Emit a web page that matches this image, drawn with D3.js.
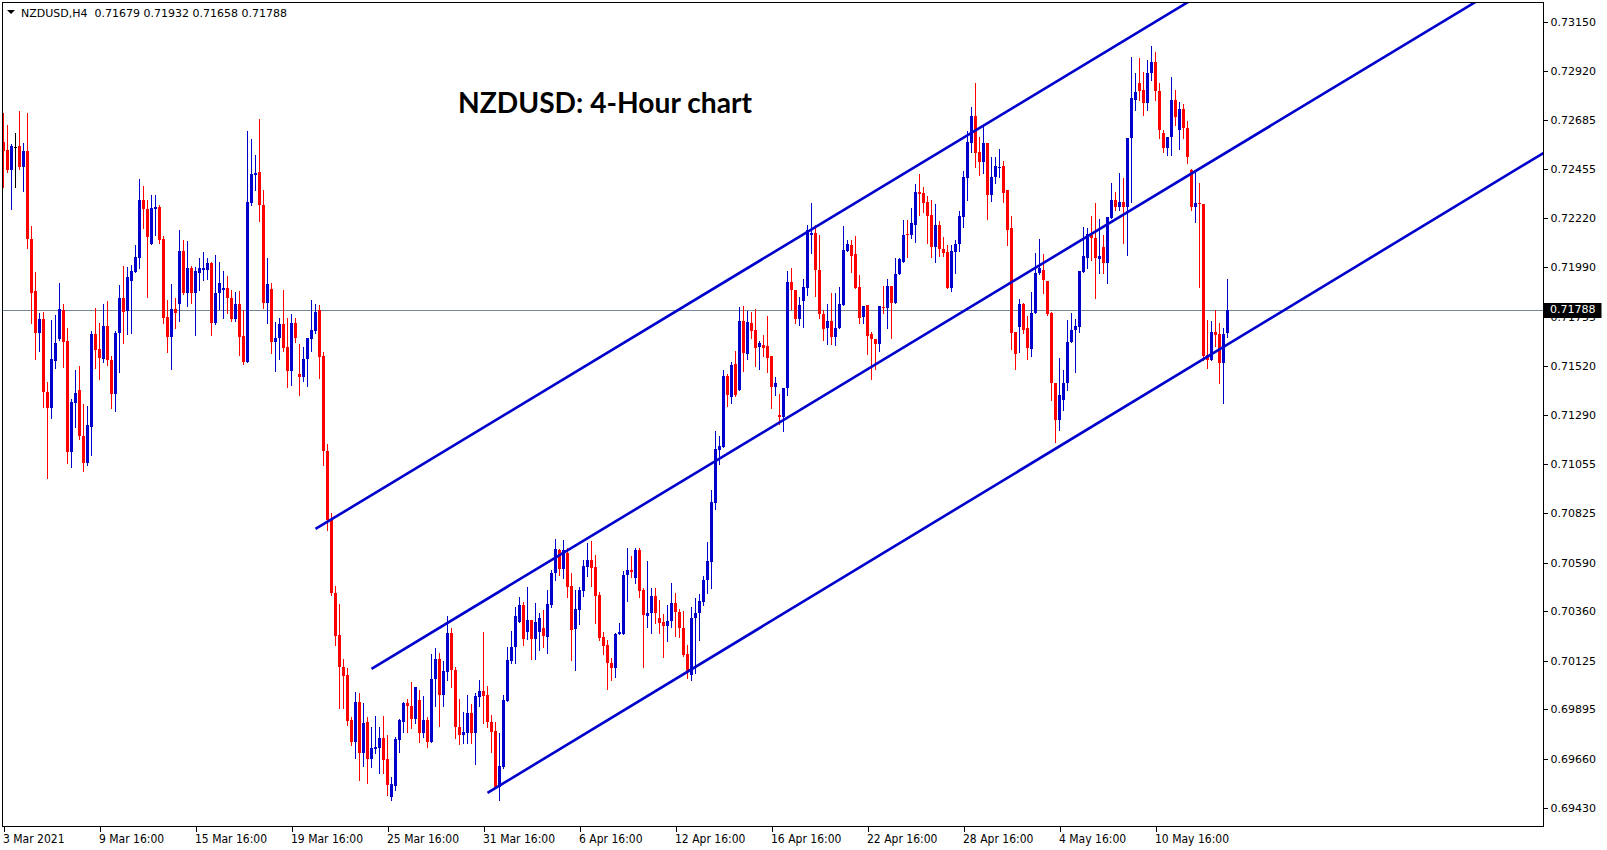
<!DOCTYPE html>
<html><head><meta charset="utf-8">
<script src="https://cdn.jsdelivr.net/npm/d3@7"></script>
<style>html,body{margin:0;padding:0;background:#fff;} svg{display:block}</style>
</head><body>
<script>
// ---- DATA ----
const symbol = "NZDUSD", timeframe = "H4";
const chartTitle = "NZDUSD: 4-Hour chart";
const opens = [
.72582,.72544,.72449,.72560,.72563,.72465,.72539,.72122,.71876,.71675,
.71742,.71399,.71320,.71546,.71647,.71786,.71639,.71115,.71344,.71407,
.71191,.71060,.71233,.71671,.71600,.71552,.71710,.71549,.71387,.71675,
.71841,.71783,.71925,.71967,.72034,.72307,.72264,.72098,.72263,.72275,
.72122,.71754,.71659,.71791,.71813,.72065,.71865,.71986,.71868,.71963,
.71975,.71975,.72010,.71726,.71865,.71881,.71892,.71841,.71742,.71814,
.71663,.71541,.72291,.72427,.72441,.72283,.71820,.71885,.71636,.71652,
.71719,.71611,.71497,.71723,.71483,.71470,.71554,.71647,.71688,.71786,
.71568,.71120,.70791,.70447,.70247,.70097,.70057,.69844,.69738,.69931,
.69689,.69835,.69659,.69705,.69711,.69759,.69659,.69481,.69532,.69749,
.69836,.69923,.69910,.69849,.69939,.69784,.69844,.69741,.70038,.70133,
.69962,.70073,.70258,.70081,.69812,.69773,.69784,.69876,.69781,.69954,
.69981,.69962,.69836,.69792,.69525,.69620,.69935,.70125,.70188,.70310,
.70389,.70263,.70318,.70226,.70263,.70279,.70239,.70389,.70539,.70649,
.70559,.70637,.70479,.70274,.70365,.70455,.70570,.70602,.70570,.70436,
.70239,.70199,.70113,.70092,.70250,.70251,.70531,.70554,.70515,.70649,
.70460,.70337,.70349,.70431,.70326,.70310,.70289,.70313,.70400,.70357,
.70281,.70157,.70057,.70329,.70349,.70404,.70507,.70593,.70873,.71123,
.71138,.71473,.71375,.71530,.71407,.71735,.71577,.71726,.71691,.71612,
.71620,.71615,.71568,.71423,.71289,.71278,.71418,.71920,.71881,.71743,
.71830,.71891,.72141,.72152,.71975,.71767,.71702,.71734,.71659,.71702,
.71810,.72067,.72094,.72051,.71896,.71754,.71810,.71672,.71649,.71623,
.71801,.71794,.71900,.71821,.71956,.72015,.72146,.72141,.72188,.72346,
.72339,.72297,.72236,.72086,.72188,.72075,.72062,.71891,.72062,.72097,
.72228,.72412,.72578,.72705,.72536,.72488,.72578,.72331,.72414,.72457,
.72468,.72354,.72176,.71683,.71707,.71814,.71702,.71600,.71770,.71963,
.71975,.71925,.71773,.71439,.71265,.71360,.71439,.71636,.71691,.71704,
.71967,.72034,.72141,.72125,.72026,.72086,.72007,.72220,.72307,.72275,
.72296,.72275,.72599,.72780,.72859,.72828,.72768,.72908,.72960,.72823,
.72626,.72555,.72604,.72780,.72640,.72740,.72650,.72449,.72275,.72294,
.72288,.71573,.71549,.71683,.71672,.71533,.71679];
const highs = [
.72719,.72662,.72572,.72624,.72728,.72577,.72720,.72184,.71967,.71773,
.71778,.71445,.71738,.71762,.71915,.71813,.71701,.71363,.71502,.71521,
.71341,.71331,.71686,.71794,.71723,.71814,.71828,.71568,.71686,.71904,
.71994,.71991,.71998,.72094,.72406,.72373,.72307,.72331,.72331,.72283,
.72138,.71833,.71909,.71841,.72165,.72117,.72113,.71996,.71991,.72034,
.72059,.72034,.72015,.72046,.72015,.71971,.71947,.71881,.71871,.71876,
.71786,.72635,.72594,.72520,.72690,.72354,.72034,.71915,.71728,.71747,
.71881,.71747,.71767,.71747,.71625,.71612,.71655,.71833,.71814,.71810,
.71588,.71151,.70824,.70479,.70394,.70132,.70089,.69860,.69978,.69971,
.69926,.69860,.69812,.69863,.69812,.69863,.69773,.69576,.69765,.69848,
.69931,.69942,.70026,.70002,.69986,.69958,.69860,.70157,.70184,.70160,
.70125,.70337,.70278,.70097,.69942,.69881,.69962,.69920,.69973,.70034,
.70262,.70005,.69868,.69836,.69784,.69962,.70191,.70267,.70381,.70428,
.70404,.70475,.70318,.70397,.70349,.70365,.70460,.70554,.70700,.70652,
.70697,.70657,.70539,.70460,.70475,.70602,.70681,.70692,.70626,.70452,
.70262,.70223,.70136,.70255,.70305,.70550,.70657,.70621,.70657,.70657,
.70468,.70599,.70468,.70471,.70412,.70345,.70389,.70494,.70444,.70368,
.70360,.70199,.70381,.70420,.70441,.70526,.70689,.70933,.71214,.71191,
.71502,.71483,.71541,.71593,.71799,.71805,.71783,.71778,.71791,.71640,
.71667,.71759,.71568,.71467,.71387,.71415,.71971,.71986,.71881,.71849,
.71931,.72188,.72294,.72188,.72141,.71786,.71814,.71865,.71865,.71896,
.72184,.72117,.72117,.72136,.71952,.71806,.71810,.71680,.71649,.71806,
.71900,.71931,.71900,.72031,.72031,.72212,.72212,.72267,.72383,.72430,
.72370,.72326,.72307,.72288,.72207,.72133,.72094,.72094,.72117,.72256,
.72446,.72635,.72749,.72862,.72607,.72662,.72578,.72509,.72509,.72547,
.72493,.72354,.72232,.71683,.71837,.71821,.71758,.71872,.72057,.72122,
.72051,.71925,.71778,.71442,.71557,.71502,.71738,.71773,.71742,.71972,
.72178,.72173,.72231,.72291,.72215,.72141,.72228,.72386,.72346,.72433,
.72410,.72599,.72985,.72907,.72978,.72914,.72970,.73036,.73008,.72860,
.72638,.72607,.72890,.72830,.72770,.72760,.72680,.72452,.72441,.72389,
.72288,.71738,.71735,.71786,.71726,.71699,.71932];
const lows = [
.72369,.72441,.72263,.72369,.72452,.72351,.72078,.71723,.71552,.71593,
.71328,.70989,.71276,.71513,.71644,.71517,.71060,.71044,.71230,.71173,
.71025,.71052,.71099,.71513,.71461,.71541,.71525,.71323,.71309,.71494,
.71631,.71671,.71678,.71967,.71986,.72173,.71849,.72098,.72141,.72102,
.71723,.71588,.71505,.71702,.71735,.71862,.71805,.71818,.71667,.71881,
.71928,.71933,.71667,.71718,.71791,.71749,.71770,.71734,.71734,.71573,
.71530,.71541,.72283,.72354,.72209,.71797,.71726,.71584,.71498,.71552,
.71592,.71423,.71431,.71633,.71383,.71451,.71426,.71593,.71675,.71465,
.71052,.70744,.70436,.70199,.69900,.69900,.69820,.69726,.69663,.69560,
.69626,.69544,.69623,.69686,.69594,.69592,.69489,.69465,.69513,.69694,
.69786,.69786,.69805,.69828,.69741,.69765,.69715,.69741,.69910,.69816,
.69910,.70034,.69999,.69757,.69730,.69737,.69737,.69737,.69636,.69910,
.69828,.69812,.69694,.69521,.69465,.69615,.69935,.70113,.70113,.70310,
.70199,.70226,.70132,.70132,.70176,.70191,.70160,.70379,.70507,.70531,
.70515,.70428,.70128,.70081,.70297,.70431,.70527,.70480,.70302,.70223,
.70157,.69990,.70034,.70049,.70250,.70251,.70409,.70520,.70494,.70425,
.70097,.70286,.70258,.70302,.70258,.70144,.70220,.70286,.70244,.70239,
.70147,.70042,.70034,.70065,.70223,.70389,.70447,.70471,.70842,.71055,
.71138,.71331,.71347,.71380,.71407,.71498,.71554,.71652,.71521,.71507,
.71569,.71494,.71320,.71383,.71245,.71214,.71383,.71791,.71723,.71715,
.71704,.71857,.72057,.71852,.71747,.71644,.71625,.71625,.71620,.71699,
.71810,.72067,.71967,.71891,.71723,.71723,.71576,.71458,.71505,.71593,
.71770,.71699,.71652,.71821,.71956,.72015,.72038,.72126,.72109,.72236,
.72251,.72105,.72038,.72015,.72043,.72042,.71889,.71876,.71963,.72065,
.72178,.72307,.72536,.72465,.72425,.72433,.72217,.72304,.72386,.72414,
.72296,.72094,.71600,.71505,.71588,.71676,.71552,.71568,.71770,.71956,
.71868,.71762,.71360,.71161,.71218,.71312,.71407,.71636,.71494,.71680,
.71967,.71983,.72023,.71841,.71960,.71960,.71912,.72220,.72259,.72259,
.72105,.72046,.72299,.72733,.72780,.72709,.72733,.72875,.72780,.72600,
.72536,.72520,.72520,.72660,.72547,.72600,.72481,.72259,.72204,.71896,
.71549,.71510,.71549,.71615,.71442,.71347,.71658];
const closes = [
.72539,.72449,.72563,.72560,.72465,.72539,.72122,.71868,.71678,.71742,
.71399,.71320,.71552,.71628,.71791,.71636,.71115,.71352,.71394,.71191,
.71060,.71241,.71671,.71596,.71560,.71710,.71549,.71387,.71675,.71841,
.71778,.71941,.71971,.72035,.72307,.72263,.72133,.72270,.72275,.72117,
.71749,.71659,.71791,.71773,.72065,.71868,.71986,.71868,.71971,.71986,
.71986,.72010,.71726,.71868,.71915,.71892,.71841,.71742,.71814,.71659,
.71541,.72299,.72430,.72436,.72283,.71820,.71909,.71636,.71655,.71719,
.71607,.71497,.71723,.71655,.71470,.71554,.71652,.71691,.71776,.71565,
.71120,.70791,.70447,.70242,.70097,.70053,.69841,.69738,.69931,.69689,
.69828,.69659,.69711,.69718,.69759,.69655,.69536,.69541,.69754,.69844,
.69926,.69910,.69849,.69999,.69784,.69844,.69741,.70038,.70133,.69962,
.70076,.70255,.70081,.69810,.69773,.69789,.69876,.69784,.69958,.69981,
.69958,.69836,.69789,.69528,.69626,.69939,.70128,.70191,.70337,.70389,
.70226,.70318,.70226,.70310,.70326,.70242,.70392,.70539,.70652,.70559,
.70649,.70475,.70270,.70368,.70460,.70573,.70602,.70565,.70431,.70234,
.70195,.70113,.70092,.70251,.70263,.70531,.70554,.70543,.70649,.70456,
.70341,.70352,.70431,.70349,.70305,.70289,.70313,.70400,.70354,.70279,
.70152,.70073,.70329,.70352,.70408,.70507,.70597,.70878,.71126,.71143,
.71473,.71383,.71525,.71383,.71735,.71581,.71730,.71688,.71607,.71628,
.71604,.71560,.71423,.71439,.71281,.71415,.71920,.71881,.71743,.71810,
.71896,.72165,.72152,.71975,.71767,.71696,.71734,.71659,.71702,.71814,
.72070,.72098,.72043,.71891,.71749,.71806,.71663,.71649,.71625,.71805,
.71794,.71900,.71821,.71956,.72026,.72141,.72141,.72196,.72346,.72335,
.72294,.72232,.72086,.72188,.72073,.72057,.71891,.72065,.72098,.72232,
.72417,.72583,.72705,.72531,.72488,.72578,.72331,.72417,.72468,.72465,
.72341,.72165,.71678,.71577,.71814,.71691,.71604,.71773,.71963,.71983,
.71928,.71767,.71439,.71265,.71383,.71439,.71636,.71691,.71711,.71972,
.72042,.72146,.72125,.72031,.72042,.72007,.72225,.72307,.72272,.72296,
.72275,.72599,.72788,.72820,.72823,.72768,.72907,.72960,.72823,.72640,
.72552,.72607,.72780,.72700,.72740,.72650,.72512,.72275,.72291,.72288,
.71568,.71549,.71683,.71667,.71533,.71672,.71788];

const priceTicks = [0.73150,0.72920,0.72685,0.72455,0.72220,0.71990,0.71755,0.71520,
  0.71290,0.71055,0.70825,0.70590,0.70360,0.70125,0.69895,0.69660,0.69430];
const timeTickBars = [0,24,48,72,96,120,144,168,192,216,240,264,288];
const timeTickLabels = ["3 Mar 2021","9 Mar 16:00","15 Mar 16:00","19 Mar 16:00","25 Mar 16:00",
  "31 Mar 16:00","6 Apr 16:00","12 Apr 16:00","16 Apr 16:00","22 Apr 16:00",
  "28 Apr 16:00","4 May 16:00","10 May 16:00"];
// channel trend lines (bar index, price) endpoints
const trendStartBar = [78, 92, 121];
const trendStartPrice = [0.70749, 0.70087, 0.69499];
const trendEndBar = [330, 400, 400];
const trendEndPrice = [0.73632, 0.73611, 0.72702];
const bidPrice = closes[closes.length-1];

// ---- LAYOUT ----
const W = 1607, H = 850;
const L = 2.5, T = 2.5, R = 1543.5, B = 826.5;
const bars = d3.range(opens.length);
const x = d3.scaleLinear().domain([0, 385]).range([3.5, 1543.5]);
const y = d3.scaleLinear().domain([0.69430, 0.73150]).range([807.5, 22]);
const BULL = "#0000cd", BEAR = "#ff0000", DOJI = "#000000";

const svg = d3.select("body").append("svg").attr("width", W).attr("height", H)
  .style("font-family", "'DejaVu Sans', Verdana, sans-serif");

svg.append("defs").append("clipPath").attr("id","plotclip")
  .append("rect").attr("x", L).attr("y", T).attr("width", R-L).attr("height", B-T);

const plot = svg.append("g").attr("clip-path","url(#plotclip)");

// bid line
plot.append("line").attr("x1", L).attr("x2", R)
  .attr("y1", Math.round(y(bidPrice)) + 0.5).attr("y2", Math.round(y(bidPrice)) + 0.5)
  .attr("stroke", "#778899").attr("stroke-width", 1);

// candles
const colorOf = i => closes[i] > opens[i] ? BULL : (closes[i] < opens[i] ? BEAR : DOJI);
const cg = plot.append("g").attr("shape-rendering","crispEdges");
cg.selectAll("line.wick").data(bars).join("line").attr("class","wick")
  .attr("x1", i => x(i)).attr("x2", i => x(i))
  .attr("y1", i => Math.round(y(highs[i]))).attr("y2", i => Math.round(y(lows[i])) + 1)
  .attr("stroke", colorOf).attr("stroke-width", 1);
cg.selectAll("rect.body").data(bars).join("rect").attr("class","body")
  .attr("x", i => x(i) - 1.5).attr("width", 3)
  .attr("y", i => Math.round(y(Math.max(opens[i], closes[i]))))
  .attr("height", i => Math.max(1, Math.round(y(Math.min(opens[i], closes[i]))) - Math.round(y(Math.max(opens[i], closes[i])))))
  .attr("fill", colorOf);

// trend lines
plot.selectAll("line.trend").data(d3.range(trendStartBar.length)).join("line").attr("class","trend")
  .attr("x1", k => x(trendStartBar[k])).attr("y1", k => y(trendStartPrice[k]))
  .attr("x2", k => x(trendEndBar[k])).attr("y2", k => y(trendEndPrice[k]))
  .attr("stroke", "#0000cd").attr("stroke-width", 2.6).attr("stroke-linecap","butt");

// frame
svg.append("rect").attr("x", L).attr("y", T).attr("width", R-L).attr("height", B-T)
  .attr("fill","none").attr("stroke","#000").attr("stroke-width",1).attr("shape-rendering","crispEdges");

// price axis
const yAxis = d3.axisRight(y).tickValues(priceTicks).tickFormat(d3.format(".5f"))
  .tickSize(4).tickPadding(3);
const ya = svg.append("g").attr("transform", `translate(${R},0)`).call(yAxis);
ya.select(".domain").remove();
ya.selectAll(".tick line").attr("stroke","#000").attr("shape-rendering","crispEdges");
ya.selectAll(".tick text").attr("fill","#000").style("font-size","11px")
  .style("font-family","'DejaVu Sans', Verdana, sans-serif");

// time axis
const tAxis = d3.axisBottom(x).tickValues(timeTickBars)
  .tickFormat((d, k) => timeTickLabels[k]).tickSize(5).tickPadding(3);
const xa = svg.append("g").attr("transform", `translate(0,${B})`).call(tAxis);
xa.select(".domain").remove();
xa.selectAll(".tick line").attr("stroke","#000").attr("shape-rendering","crispEdges");
xa.selectAll(".tick text").attr("fill","#000").attr("text-anchor","start").attr("x", -1)
  .attr("dy","0.71em")
  .style("font-size","12px").style("font-stretch","condensed")
  .style("font-family","'DejaVu Sans Condensed', 'Liberation Sans Narrow', 'DejaVu Sans', sans-serif");

// bid label box
const by = y(bidPrice);
svg.append("rect").attr("x", R).attr("y", Math.round(by) - 7).attr("width", 58).attr("height", 15)
  .attr("fill","#000");
svg.append("text").attr("x", R + 6.5).attr("y", by).attr("dy","0.35em")
  .attr("fill","#fff").style("font-size","11px").text(d3.format(".5f")(bidPrice));

// header
svg.append("path").attr("d","M7,10 L15,10 L11,14 Z").attr("fill","#000");
const last = opens.length - 1;
const f5 = d3.format(".5f");
svg.append("text").attr("x", 21).attr("y", 13).attr("dy","0.35em").attr("fill","#000")
  .style("font-size","11px").attr("xml:space","preserve")
  .text(`${symbol},${timeframe}  ${f5(opens[last])} ${f5(highs[last])} ${f5(lows[last])} ${f5(closes[last])}`);

// title
svg.append("text").attr("x", 458).attr("y", 113).attr("fill","#000")
  .style("font-family","Lato, 'Open Sans', sans-serif").style("font-weight","bold")
  .style("font-size","28.2px").text(chartTitle);
</script>
</body></html>
